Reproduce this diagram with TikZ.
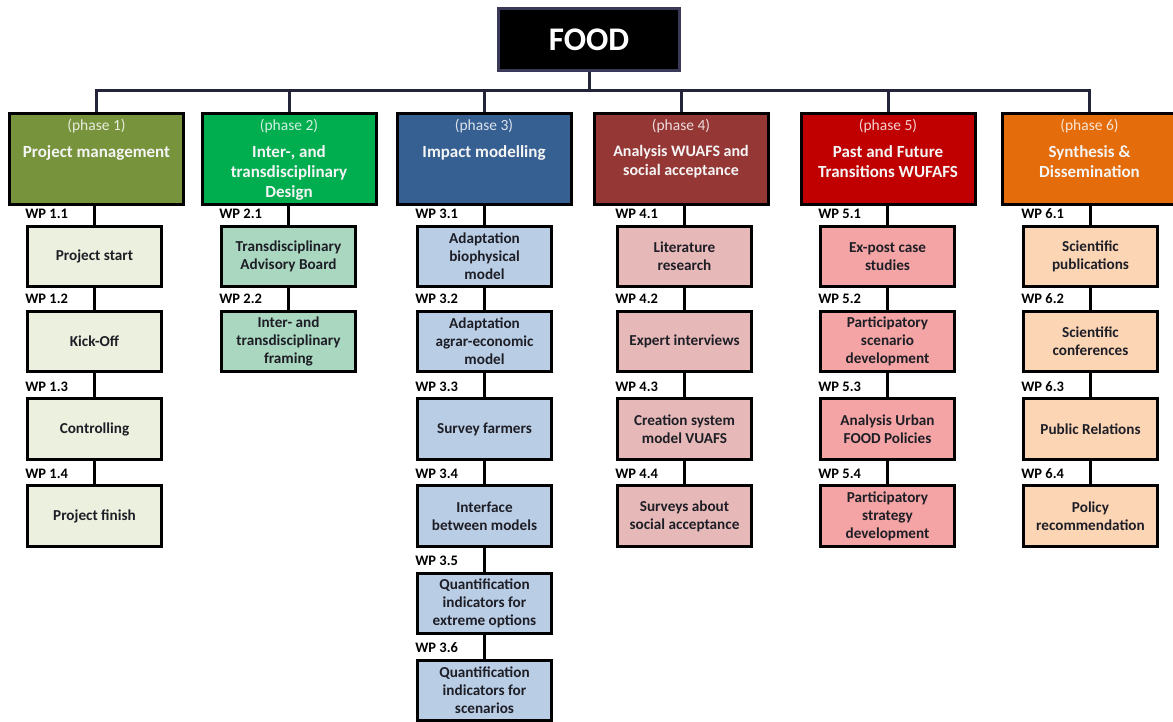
\documentclass[tikz,border=0pt]{standalone}
\usepackage{fontspec}
\setmainfont{Carlito}
\usetikzlibrary{backgrounds}
\definecolor{ph1}{HTML}{77933C}
\definecolor{ph2}{HTML}{00AE50}
\definecolor{ph3}{HTML}{376092}
\definecolor{ph4}{HTML}{953735}
\definecolor{ph5}{HTML}{C00000}
\definecolor{ph6}{HTML}{E46C0A}
\definecolor{sb1}{HTML}{EBF1DE}
\definecolor{sb2}{HTML}{A9D7BF}
\definecolor{sb3}{HTML}{B9CDE5}
\definecolor{sb4}{HTML}{E6B9B8}
\definecolor{sb5}{HTML}{F4A4A4}
\definecolor{sb6}{HTML}{FCD5B5}
\definecolor{treec}{HTML}{23233A}
\definecolor{foodborder}{HTML}{3A3A58}
\definecolor{subtext}{HTML}{1E1E26}
\tikzset{
  phase/.style={draw=black, line width=3pt, minimum width=174pt, minimum height=91pt, inner sep=0pt, fill=#1},
  subbox/.style={draw=black, line width=2.7pt, minimum width=134pt, minimum height=60.5pt, inner sep=0pt, fill=#1, align=center, font=\fontsize{15.2}{18}\selectfont\bfseries, text=subtext},
  wp/.style={anchor=base west, inner sep=0pt, font=\fontsize{14.5}{16}\selectfont\bfseries, text=black},
  ptitle/.style={anchor=north, inner sep=0pt, align=center, font=\fontsize{17}{20}\selectfont\bfseries, text=white!96!black},
  plabel/.style={anchor=north, inner sep=0pt, font=\fontsize{15.5}{18}\selectfont, text=white!82!#1},
  link/.style={line width=3pt, draw=black},
  tree/.style={line width=3pt, draw=treec, line join=miter, line cap=rect},
}
\begin{document}
\begin{tikzpicture}[x=1pt,y=-1pt]
\useasboundingbox (0,0) rectangle (1173,722);
% root
\node[draw=foodborder, line width=3pt, fill=black, minimum width=181pt, minimum height=62pt, inner sep=0pt,
      font=\fontsize{33}{36}\selectfont\bfseries, text=white] (food) at (589,39.5) {FOOD};
% phases
\node[phase=ph1] (p1) at (96.5,159) {};
\node[phase=ph2] (p2) at (289,159) {};
\node[phase=ph3] (p3) at (484,159) {};
\node[phase=ph4] (p4) at (681,159) {};
\node[phase=ph5] (p5) at (888,159) {};
\node[phase=ph6] (p6) at (1089.5,159) {};
\node[plabel=ph1] (p1l) at ([yshift=-7pt]p1.north) {(phase 1)};
\node[plabel=ph2] (p2l) at ([yshift=-7pt]p2.north) {(phase 2)};
\node[plabel=ph3] (p3l) at ([yshift=-7pt]p3.north) {(phase 3)};
\node[plabel=ph4] (p4l) at ([yshift=-7pt]p4.north) {(phase 4)};
\node[plabel=ph5] (p5l) at ([yshift=-7pt]p5.north) {(phase 5)};
\node[plabel=ph6] (p6l) at ([yshift=-7pt]p6.north) {(phase 6)};
\node[ptitle] (p1t) at ([yshift=-33.5pt]p1.north) {Project management};
\node[ptitle] (p2t) at ([yshift=-33.5pt]p2.north) {Inter-, and\\transdisciplinary\\Design};
\node[ptitle] (p3t) at ([yshift=-33.5pt]p3.north) {Impact modelling};
\node[ptitle, font=\fontsize{16}{19}\selectfont\bfseries] (p4t) at ([yshift=-33.5pt]p4.north) {Analysis WUAFS and\\social acceptance};
\node[ptitle] (p5t) at ([yshift=-33.5pt]p5.north) {Past and Future\\Transitions WUFAFS};
\node[ptitle] (p6t) at ([yshift=-33.5pt]p6.north) {Synthesis \&\\Dissemination};
% column 1
\node[subbox=sb1] (s11) at (94.5,256.5) {Project start};
\node[subbox=sb1] (s12) at (94.5,341.5) {Kick-Off};
\node[subbox=sb1] (s13) at (94.5,429) {Controlling};
\node[subbox=sb1] (s14) at (94.5,516) {Project finish};
% column 2
\node[subbox=sb2] (s21) at (288.5,256.5) {Transdisciplinary\\Advisory Board};
\node[subbox=sb2] (s22) at (288.5,341.5) {Inter- and\\transdisciplinary\\framing};
% column 3
\node[subbox=sb3] (s31) at (484.5,256.5) {Adaptation\\biophysical\\model};
\node[subbox=sb3] (s32) at (484.5,341.5) {Adaptation\\agrar-economic\\model};
\node[subbox=sb3] (s33) at (484.5,429) {Survey farmers};
\node[subbox=sb3] (s34) at (484.5,516) {Interface\\between models};
\node[subbox=sb3] (s35) at (484.5,603.5) {Quantification\\indicators for\\extreme options};
\node[subbox=sb3] (s36) at (484.5,690.5) {Quantification\\indicators for\\scenarios};
% column 4
\node[subbox=sb4] (s41) at (684.5,256.5) {Literature\\research};
\node[subbox=sb4] (s42) at (684.5,341.5) {Expert interviews};
\node[subbox=sb4] (s43) at (684.5,429) {Creation system\\model VUAFS};
\node[subbox=sb4] (s44) at (684.5,516) {Surveys about\\social acceptance};
% column 5
\node[subbox=sb5] (s51) at (887.5,256.5) {Ex-post case\\studies};
\node[subbox=sb5] (s52) at (887.5,341.5) {Participatory\\scenario\\development};
\node[subbox=sb5] (s53) at (887.5,429) {Analysis Urban\\FOOD Policies};
\node[subbox=sb5] (s54) at (887.5,516) {Participatory\\strategy\\development};
% column 6
\node[subbox=sb6] (s61) at (1090.5,256.5) {Scientific\\publications};
\node[subbox=sb6] (s62) at (1090.5,341.5) {Scientific\\conferences};
\node[subbox=sb6] (s63) at (1090.5,429) {Public Relations};
\node[subbox=sb6] (s64) at (1090.5,516) {Policy\\recommendation};
% WP labels
\foreach \n/\t in {s11/WP 1.1, s12/WP 1.2, s13/WP 1.3, s14/WP 1.4,
                   s21/WP 2.1, s22/WP 2.2,
                   s31/WP 3.1, s32/WP 3.2, s33/WP 3.3, s34/WP 3.4, s35/WP 3.5, s36/WP 3.6,
                   s41/WP 4.1, s42/WP 4.2, s43/WP 4.3, s44/WP 4.4,
                   s51/WP 5.1, s52/WP 5.2, s53/WP 5.3, s54/WP 5.4,
                   s61/WP 6.1, s62/WP 6.2, s63/WP 6.3, s64/WP 6.4}
  \node[wp] (\n wp) at ([xshift=-1pt, yshift=6.3pt]\n.north west) {\t};
% connectors
\begin{scope}[on background layer]
\fill[white] (0,0) rectangle (1173,722);
\coordinate (bar) at (0,91);
\draw[tree] (food.south) -- (food.south |- bar);
\draw[tree] (p1.north) -- (p1.north |- bar) -- (p6.north |- bar) -- (p6.north);
\foreach \p in {p2,p3,p4,p5} \draw[tree] (\p.north) -- (\p.north |- bar);
\draw[link] (s11.north |- p1.south) -- (s11.north);
\draw[link] (s21.north |- p2.south) -- (s21.north);
\draw[link] (s31.north |- p3.south) -- (s31.north);
\draw[link] (s41.north |- p4.south) -- (s41.north);
\draw[link] (s51.north |- p5.south) -- (s51.north);
\draw[link] (s61.north |- p6.south) -- (s61.north);
\draw[link] (s11) -- (s12) -- (s13) -- (s14);
\draw[link] (s21) -- (s22);
\draw[link] (s31) -- (s32) -- (s33) -- (s34) -- (s35) -- (s36);
\draw[link] (s41) -- (s42) -- (s43) -- (s44);
\draw[link] (s51) -- (s52) -- (s53) -- (s54);
\draw[link] (s61) -- (s62) -- (s63) -- (s64);
\end{scope}
\end{tikzpicture}
\end{document}
